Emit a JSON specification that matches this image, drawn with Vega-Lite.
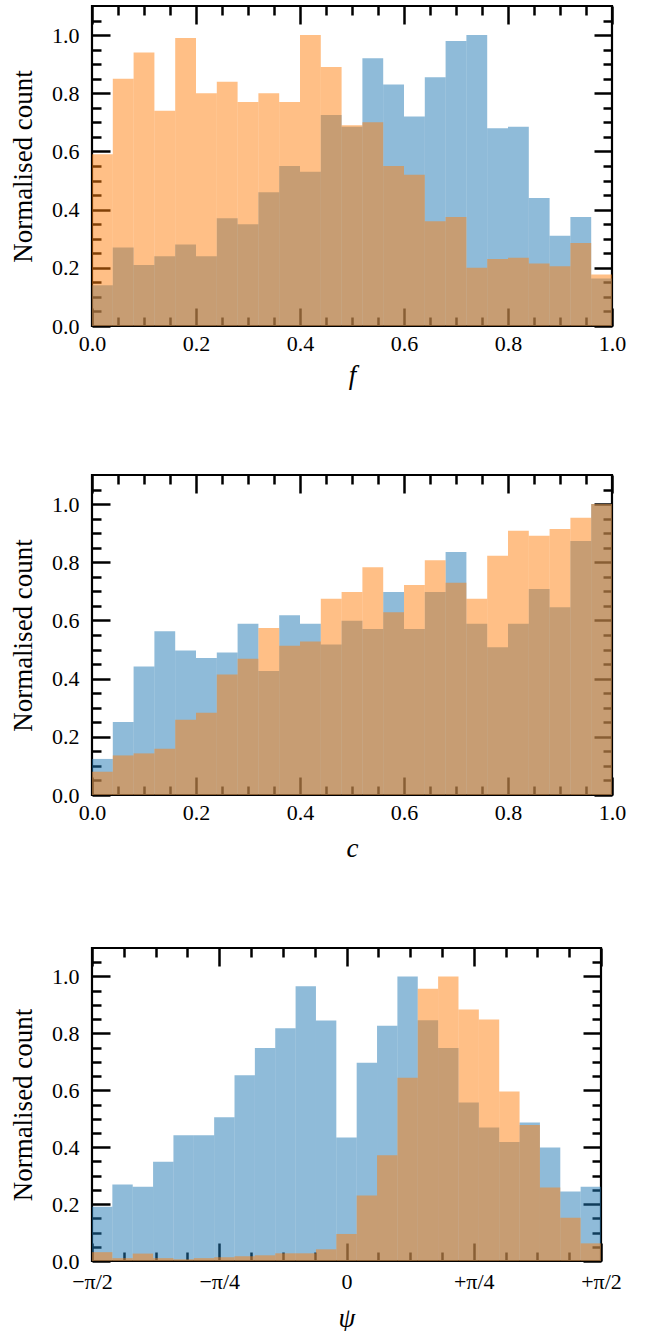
{
  "$schema": "https://vega.github.io/schema/vega-lite/v6.json",
  "padding": {"top": 3, "left": 8, "right": 5, "bottom": 5},
  "spacing": 82,
  "config": {
    "font": "Liberation Serif",
    "view": {"stroke": "black", "strokeWidth": 2.2},
    "axis": {
      "labelFont": "Liberation Serif", "labelFontSize": 22, "labelColor": "black",
      "titleFont": "Liberation Serif", "titleFontSize": 27, "titleFontWeight": "normal", "titleColor": "black",
      "tickColor": "black", "tickWidth": 2.5, "grid": false, "labelOverlap": false, "labelFlush": false, "domain": false, "zindex": 1
    }
  },
  "datasets": {
    "p1": [
      {"x0": 0.00, "x1": 0.04, "b": 0.14, "o": 0.59},
      {"x0": 0.04, "x1": 0.08, "b": 0.27, "o": 0.85},
      {"x0": 0.08, "x1": 0.12, "b": 0.21, "o": 0.94},
      {"x0": 0.12, "x1": 0.16, "b": 0.24, "o": 0.74},
      {"x0": 0.16, "x1": 0.20, "b": 0.28, "o": 0.99},
      {"x0": 0.20, "x1": 0.24, "b": 0.24, "o": 0.80},
      {"x0": 0.24, "x1": 0.28, "b": 0.37, "o": 0.84},
      {"x0": 0.28, "x1": 0.32, "b": 0.35, "o": 0.77},
      {"x0": 0.32, "x1": 0.36, "b": 0.46, "o": 0.80},
      {"x0": 0.36, "x1": 0.40, "b": 0.55, "o": 0.77},
      {"x0": 0.40, "x1": 0.44, "b": 0.53, "o": 1.00},
      {"x0": 0.44, "x1": 0.48, "b": 0.725, "o": 0.89},
      {"x0": 0.48, "x1": 0.52, "b": 0.685, "o": 0.69},
      {"x0": 0.52, "x1": 0.56, "b": 0.92, "o": 0.70},
      {"x0": 0.56, "x1": 0.60, "b": 0.83, "o": 0.55},
      {"x0": 0.60, "x1": 0.64, "b": 0.72, "o": 0.52},
      {"x0": 0.64, "x1": 0.68, "b": 0.855, "o": 0.36},
      {"x0": 0.68, "x1": 0.72, "b": 0.98, "o": 0.375},
      {"x0": 0.72, "x1": 0.76, "b": 1.00, "o": 0.20},
      {"x0": 0.76, "x1": 0.80, "b": 0.68, "o": 0.23},
      {"x0": 0.80, "x1": 0.84, "b": 0.685, "o": 0.235},
      {"x0": 0.84, "x1": 0.88, "b": 0.44, "o": 0.215},
      {"x0": 0.88, "x1": 0.92, "b": 0.31, "o": 0.205},
      {"x0": 0.92, "x1": 0.96, "b": 0.375, "o": 0.285},
      {"x0": 0.96, "x1": 1.00, "b": 0.163, "o": 0.177}
    ],
    "p2": [
      {"x0": 0.00, "x1": 0.04, "b": 0.124, "o": 0.08},
      {"x0": 0.04, "x1": 0.08, "b": 0.251, "o": 0.136},
      {"x0": 0.08, "x1": 0.12, "b": 0.442, "o": 0.143},
      {"x0": 0.12, "x1": 0.16, "b": 0.563, "o": 0.159},
      {"x0": 0.16, "x1": 0.20, "b": 0.497, "o": 0.259},
      {"x0": 0.20, "x1": 0.24, "b": 0.471, "o": 0.283},
      {"x0": 0.24, "x1": 0.28, "b": 0.490, "o": 0.414},
      {"x0": 0.28, "x1": 0.32, "b": 0.589, "o": 0.468},
      {"x0": 0.32, "x1": 0.36, "b": 0.426, "o": 0.574},
      {"x0": 0.36, "x1": 0.40, "b": 0.618, "o": 0.513},
      {"x0": 0.40, "x1": 0.44, "b": 0.589, "o": 0.528},
      {"x0": 0.44, "x1": 0.48, "b": 0.517, "o": 0.675},
      {"x0": 0.48, "x1": 0.52, "b": 0.599, "o": 0.698},
      {"x0": 0.52, "x1": 0.56, "b": 0.571, "o": 0.783},
      {"x0": 0.56, "x1": 0.60, "b": 0.698, "o": 0.628},
      {"x0": 0.60, "x1": 0.64, "b": 0.571, "o": 0.722},
      {"x0": 0.64, "x1": 0.68, "b": 0.698, "o": 0.807},
      {"x0": 0.68, "x1": 0.72, "b": 0.835, "o": 0.730},
      {"x0": 0.72, "x1": 0.76, "b": 0.589, "o": 0.675},
      {"x0": 0.76, "x1": 0.80, "b": 0.508, "o": 0.822},
      {"x0": 0.80, "x1": 0.84, "b": 0.589, "o": 0.908},
      {"x0": 0.84, "x1": 0.88, "b": 0.708, "o": 0.891},
      {"x0": 0.88, "x1": 0.92, "b": 0.645, "o": 0.914},
      {"x0": 0.92, "x1": 0.96, "b": 0.873, "o": 0.953},
      {"x0": 0.96, "x1": 1.00, "b": 1.0, "o": 1.0}
    ],
    "p3": [
      {"x0": -1.570796, "x1": -1.445133, "b": 0.191, "o": 0.031},
      {"x0": -1.445133, "x1": -1.319469, "b": 0.269, "o": 0.010},
      {"x0": -1.319469, "x1": -1.193805, "b": 0.261, "o": 0.026},
      {"x0": -1.193805, "x1": -1.068142, "b": 0.349, "o": 0.010},
      {"x0": -1.068142, "x1": -0.942478, "b": 0.442, "o": 0.006},
      {"x0": -0.942478, "x1": -0.816814, "b": 0.442, "o": 0.010},
      {"x0": -0.816814, "x1": -0.691150, "b": 0.505, "o": 0.013},
      {"x0": -0.691150, "x1": -0.565487, "b": 0.653, "o": 0.017},
      {"x0": -0.565487, "x1": -0.439823, "b": 0.749, "o": 0.020},
      {"x0": -0.439823, "x1": -0.314159, "b": 0.818, "o": 0.027},
      {"x0": -0.314159, "x1": -0.188496, "b": 0.966, "o": 0.027},
      {"x0": -0.188496, "x1": -0.062832, "b": 0.845, "o": 0.041},
      {"x0": -0.062832, "x1": 0.062832, "b": 0.434, "o": 0.095},
      {"x0": 0.062832, "x1": 0.188496, "b": 0.697, "o": 0.230},
      {"x0": 0.188496, "x1": 0.314159, "b": 0.827, "o": 0.372},
      {"x0": 0.314159, "x1": 0.439823, "b": 1.0, "o": 0.644},
      {"x0": 0.439823, "x1": 0.565487, "b": 0.846, "o": 0.957},
      {"x0": 0.565487, "x1": 0.691150, "b": 0.749, "o": 1.0},
      {"x0": 0.691150, "x1": 0.816814, "b": 0.557, "o": 0.884},
      {"x0": 0.816814, "x1": 0.942478, "b": 0.469, "o": 0.849},
      {"x0": 0.942478, "x1": 1.068142, "b": 0.418, "o": 0.596},
      {"x0": 1.068142, "x1": 1.193805, "b": 0.487, "o": 0.478},
      {"x0": 1.193805, "x1": 1.319469, "b": 0.399, "o": 0.258},
      {"x0": 1.319469, "x1": 1.445133, "b": 0.244, "o": 0.152},
      {"x0": 1.445133, "x1": 1.570796, "b": 0.261, "o": 0.062}
    ]
  },
  "vconcat": [
    {
      "width": 520, "height": 320,
      "data": {"name": "p1"},
      "resolve": {"axis": {"x": "independent", "y": "independent"}},
      "layer": [
        {"mark": {"type": "bar", "color": "#1f77b4", "opacity": 0.5},
         "encoding": {
           "x": {"field": "x0", "type": "quantitative", "scale": {"domain": [0, 1], "nice": false, "zero": false},
                 "axis": {"orient": "bottom", "values": [0, 0.2, 0.4, 0.6, 0.8, 1], "format": ".1f", "ticks": false, "labelPadding": 7, "title": "f", "titleFontStyle": "italic", "titlePadding": 8}},
           "x2": {"field": "x1"},
           "y": {"field": "b", "type": "quantitative", "scale": {"domain": [0, 1.1], "nice": false},
                 "axis": {"orient": "left", "values": [0, 0.2, 0.4, 0.6, 0.8, 1], "format": ".1f", "ticks": false, "labelPadding": 13, "title": "Normalised count", "titlePadding": 14}},
           "y2": {"datum": 0}
         }},
        {"mark": {"type": "bar", "color": "#ff7f0e", "opacity": 0.5},
         "encoding": {
           "x": {"field": "x0", "type": "quantitative", "axis": {"orient": "bottom", "values": [0, 0.2, 0.4, 0.6, 0.8, 1], "labels": false, "tickSize": -18, "title": null}},
           "x2": {"field": "x1"},
           "y": {"field": "o", "type": "quantitative", "axis": {"orient": "left", "values": [0, 0.2, 0.4, 0.6, 0.8, 1], "labels": false, "tickSize": -18, "title": null}},
           "y2": {"datum": 0}
         }},
        {"mark": {"type": "bar", "opacity": 0},
         "encoding": {
           "x": {"field": "x0", "type": "quantitative", "axis": {"orient": "bottom", "values": [0.05, 0.1, 0.15, 0.25, 0.3, 0.35, 0.45, 0.5, 0.55, 0.65, 0.7, 0.75, 0.85, 0.9, 0.95], "labels": false, "tickSize": -9, "title": null}},
           "x2": {"field": "x1"},
           "y": {"field": "b", "type": "quantitative", "axis": {"orient": "left", "values": [0.05, 0.1, 0.15, 0.25, 0.3, 0.35, 0.45, 0.5, 0.55, 0.65, 0.7, 0.75, 0.85, 0.9, 0.95, 1.05], "labels": false, "tickSize": -9, "title": null}},
           "y2": {"datum": 0}
         }},
        {"mark": {"type": "bar", "opacity": 0},
         "encoding": {
           "x": {"field": "x0", "type": "quantitative", "axis": {"orient": "top", "values": [0, 0.2, 0.4, 0.6, 0.8, 1], "labels": false, "tickSize": -18, "title": null}},
           "x2": {"field": "x1"},
           "y": {"field": "b", "type": "quantitative", "axis": {"orient": "right", "values": [0, 0.2, 0.4, 0.6, 0.8, 1], "labels": false, "tickSize": -18, "title": null}},
           "y2": {"datum": 0}
         }},
        {"mark": {"type": "bar", "opacity": 0},
         "encoding": {
           "x": {"field": "x0", "type": "quantitative", "axis": {"orient": "top", "values": [0.05, 0.1, 0.15, 0.25, 0.3, 0.35, 0.45, 0.5, 0.55, 0.65, 0.7, 0.75, 0.85, 0.9, 0.95], "labels": false, "tickSize": -9, "title": null}},
           "x2": {"field": "x1"},
           "y": {"field": "b", "type": "quantitative", "axis": {"orient": "right", "values": [0.05, 0.1, 0.15, 0.25, 0.3, 0.35, 0.45, 0.5, 0.55, 0.65, 0.7, 0.75, 0.85, 0.9, 0.95, 1.05], "labels": false, "tickSize": -9, "title": null}},
           "y2": {"datum": 0}
         }}
      ]
    },
    {
      "width": 520, "height": 320,
      "data": {"name": "p2"},
      "resolve": {"axis": {"x": "independent", "y": "independent"}},
      "layer": [
        {"mark": {"type": "bar", "color": "#1f77b4", "opacity": 0.5},
         "encoding": {
           "x": {"field": "x0", "type": "quantitative", "scale": {"domain": [0, 1], "nice": false, "zero": false},
                 "axis": {"orient": "bottom", "values": [0, 0.2, 0.4, 0.6, 0.8, 1], "format": ".1f", "ticks": false, "labelPadding": 7, "title": "c", "titleFontStyle": "italic", "titlePadding": 12}},
           "x2": {"field": "x1"},
           "y": {"field": "b", "type": "quantitative", "scale": {"domain": [0, 1.1], "nice": false},
                 "axis": {"orient": "left", "values": [0, 0.2, 0.4, 0.6, 0.8, 1], "format": ".1f", "ticks": false, "labelPadding": 13, "title": "Normalised count", "titlePadding": 14}},
           "y2": {"datum": 0}
         }},
        {"mark": {"type": "bar", "color": "#ff7f0e", "opacity": 0.5},
         "encoding": {
           "x": {"field": "x0", "type": "quantitative", "axis": {"orient": "bottom", "values": [0, 0.2, 0.4, 0.6, 0.8, 1], "labels": false, "tickSize": -18, "title": null}},
           "x2": {"field": "x1"},
           "y": {"field": "o", "type": "quantitative", "axis": {"orient": "left", "values": [0, 0.2, 0.4, 0.6, 0.8, 1], "labels": false, "tickSize": -18, "title": null}},
           "y2": {"datum": 0}
         }},
        {"mark": {"type": "bar", "opacity": 0},
         "encoding": {
           "x": {"field": "x0", "type": "quantitative", "axis": {"orient": "bottom", "values": [0.05, 0.1, 0.15, 0.25, 0.3, 0.35, 0.45, 0.5, 0.55, 0.65, 0.7, 0.75, 0.85, 0.9, 0.95], "labels": false, "tickSize": -9, "title": null}},
           "x2": {"field": "x1"},
           "y": {"field": "b", "type": "quantitative", "axis": {"orient": "left", "values": [0.05, 0.1, 0.15, 0.25, 0.3, 0.35, 0.45, 0.5, 0.55, 0.65, 0.7, 0.75, 0.85, 0.9, 0.95, 1.05], "labels": false, "tickSize": -9, "title": null}},
           "y2": {"datum": 0}
         }},
        {"mark": {"type": "bar", "opacity": 0},
         "encoding": {
           "x": {"field": "x0", "type": "quantitative", "axis": {"orient": "top", "values": [0, 0.2, 0.4, 0.6, 0.8, 1], "labels": false, "tickSize": -18, "title": null}},
           "x2": {"field": "x1"},
           "y": {"field": "b", "type": "quantitative", "axis": {"orient": "right", "values": [0, 0.2, 0.4, 0.6, 0.8, 1], "labels": false, "tickSize": -18, "title": null}},
           "y2": {"datum": 0}
         }},
        {"mark": {"type": "bar", "opacity": 0},
         "encoding": {
           "x": {"field": "x0", "type": "quantitative", "axis": {"orient": "top", "values": [0.05, 0.1, 0.15, 0.25, 0.3, 0.35, 0.45, 0.5, 0.55, 0.65, 0.7, 0.75, 0.85, 0.9, 0.95], "labels": false, "tickSize": -9, "title": null}},
           "x2": {"field": "x1"},
           "y": {"field": "b", "type": "quantitative", "axis": {"orient": "right", "values": [0.05, 0.1, 0.15, 0.25, 0.3, 0.35, 0.45, 0.5, 0.55, 0.65, 0.7, 0.75, 0.85, 0.9, 0.95, 1.05], "labels": false, "tickSize": -9, "title": null}},
           "y2": {"datum": 0}
         }}
      ]
    },
    {
      "width": 509, "height": 313,
      "data": {"name": "p3"},
      "resolve": {"axis": {"x": "independent", "y": "independent"}},
      "layer": [
        {"mark": {"type": "bar", "color": "#1f77b4", "opacity": 0.5},
         "encoding": {
           "x": {"field": "x0", "type": "quantitative", "scale": {"domain": [-1.5707963, 1.5707963], "nice": false, "zero": false},
                 "axis": {"orient": "bottom", "values": [-1.5707963, -0.7853982, 0, 0.7853982, 1.5707963], "labelExpr": "datum.value < -1 ? '−π/2' : datum.value < -0.5 ? '−π/4' : datum.value < 0.5 ? '0' : datum.value < 1 ? '+π/4' : '+π/2'", "ticks": false, "labelPadding": 10, "title": "ψ", "titleFontStyle": "italic", "titlePadding": 13}},
           "x2": {"field": "x1"},
           "y": {"field": "b", "type": "quantitative", "scale": {"domain": [0, 1.1], "nice": false},
                 "axis": {"orient": "left", "values": [0, 0.2, 0.4, 0.6, 0.8, 1], "format": ".1f", "ticks": false, "labelPadding": 13, "title": "Normalised count", "titlePadding": 14}},
           "y2": {"datum": 0}
         }},
        {"mark": {"type": "bar", "color": "#ff7f0e", "opacity": 0.5},
         "encoding": {
           "x": {"field": "x0", "type": "quantitative", "axis": {"orient": "bottom", "values": [-1.5707963, -0.7853982, 0, 0.7853982, 1.5707963], "labels": false, "tickSize": -18, "title": null}},
           "x2": {"field": "x1"},
           "y": {"field": "o", "type": "quantitative", "axis": {"orient": "left", "values": [0, 0.2, 0.4, 0.6, 0.8, 1], "labels": false, "tickSize": -18, "title": null}},
           "y2": {"datum": 0}
         }},
        {"mark": {"type": "bar", "opacity": 0},
         "encoding": {
           "x": {"field": "x0", "type": "quantitative", "axis": {"orient": "bottom", "values": [-1.3744468, -1.1780972, -0.9817477, -0.5890486, -0.3926991, -0.1963495, 0.1963495, 0.3926991, 0.5890486, 0.9817477, 1.1780972, 1.3744468], "labels": false, "tickSize": -9, "title": null}},
           "x2": {"field": "x1"},
           "y": {"field": "b", "type": "quantitative", "axis": {"orient": "left", "values": [0.05, 0.1, 0.15, 0.25, 0.3, 0.35, 0.45, 0.5, 0.55, 0.65, 0.7, 0.75, 0.85, 0.9, 0.95, 1.05], "labels": false, "tickSize": -9, "title": null}},
           "y2": {"datum": 0}
         }},
        {"mark": {"type": "bar", "opacity": 0},
         "encoding": {
           "x": {"field": "x0", "type": "quantitative", "axis": {"orient": "top", "values": [-1.5707963, -0.7853982, 0, 0.7853982, 1.5707963], "labels": false, "tickSize": -18, "title": null}},
           "x2": {"field": "x1"},
           "y": {"field": "b", "type": "quantitative", "axis": {"orient": "right", "values": [0, 0.2, 0.4, 0.6, 0.8, 1], "labels": false, "tickSize": -18, "title": null}},
           "y2": {"datum": 0}
         }},
        {"mark": {"type": "bar", "opacity": 0},
         "encoding": {
           "x": {"field": "x0", "type": "quantitative", "axis": {"orient": "top", "values": [-1.3744468, -1.1780972, -0.9817477, -0.5890486, -0.3926991, -0.1963495, 0.1963495, 0.3926991, 0.5890486, 0.9817477, 1.1780972, 1.3744468], "labels": false, "tickSize": -9, "title": null}},
           "x2": {"field": "x1"},
           "y": {"field": "b", "type": "quantitative", "axis": {"orient": "right", "values": [0.05, 0.1, 0.15, 0.25, 0.3, 0.35, 0.45, 0.5, 0.55, 0.65, 0.7, 0.75, 0.85, 0.9, 0.95, 1.05], "labels": false, "tickSize": -9, "title": null}},
           "y2": {"datum": 0}
         }}
      ]
    }
  ]
}
